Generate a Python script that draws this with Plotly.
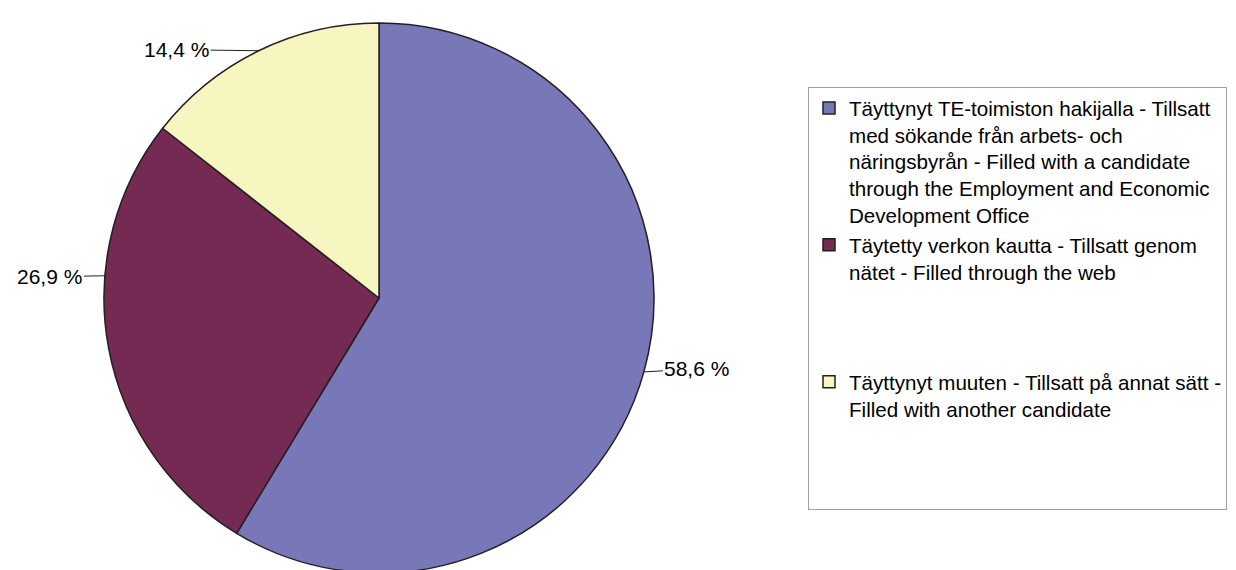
import math
import plotly.graph_objects as go

# ---- data ----
categories = [
    "Täyttynyt TE-toimiston hakijalla - Tillsatt<br>med sökande från arbets- och<br>näringsbyrån - Filled with a candidate<br>through the Employment and Economic<br>Development Office",
    "Täytetty verkon kautta - Tillsatt genom<br>nätet - Filled through the web<br> <br> <br> ",
    "Täyttynyt muuten - Tillsatt på annat sätt -<br>Filled with another candidate<br> <br> <br> ",
]
values = [58.6, 26.9, 14.4]
colors = ["#7878B9", "#752A54", "#F7F6C1"]

# ---- layout / style ----
W, H = 1236, 570
CX, CY, R = 371, 290, 275          # pie centre / radius in pixels
FONT = "Liberation Sans, Arial, sans-serif"
FS = 21
LFS = 20.6
label_shift_deg = [0, -15, 0]       # leader-line anchor shift from mid-angle
label_offsets = [(53, -3), (-55, 1), (-82, -1)]  # text offset (px) from anchor

fig = go.Figure(go.Pie(
    labels=categories,
    values=values,
    sort=False,
    direction="clockwise",
    rotation=0,
    marker=dict(colors=colors, line=dict(color="#231F20", width=1.5)),
    textinfo="none",
    hoverinfo="label+percent",
    domain=dict(x=[(CX - R) / W, (CX + R) / W],
                y=[1 - (CY + R) / H, 1 - (CY - R) / H]),
))

# data labels with leader lines, anchored on the slice edges
total = sum(values)
start = 90.0
annotations = []
for i, v in enumerate(values):
    sweep = v / total * 360.0
    mid = start - sweep / 2 + label_shift_deg[i]
    start -= sweep
    a = math.radians(mid)
    px = CX + R * math.cos(a)
    py = CY - R * math.sin(a)
    dx, dy = label_offsets[i]
    annotations.append(dict(
        x=px / W, y=1 - py / H, xref="paper", yref="paper",
        text=f"{v:.1f}".replace(".", ",") + " %",
        showarrow=True, arrowhead=0, arrowwidth=1, arrowcolor="#231F20",
        ax=dx, ay=dy, standoff=0,
        font=dict(family=FONT, size=FS, color="#000000"),
    ))

fig.update_layout(
    width=W, height=H,
    margin=dict(l=0, r=0, t=0, b=0),
    paper_bgcolor="white", plot_bgcolor="white",
    font=dict(family=FONT, size=FS, color="#000000"),
    showlegend=True,
    legend=dict(
        x=800 / W, y=1 - 79 / H, xanchor="left", yanchor="top",
        bordercolor="#A0A0A0", borderwidth=1,
        valign="top",
        font=dict(family=FONT, size=LFS, color="#000000"),
        traceorder="normal",
    ),
    annotations=annotations,
)

fig.write_html("out.html")
